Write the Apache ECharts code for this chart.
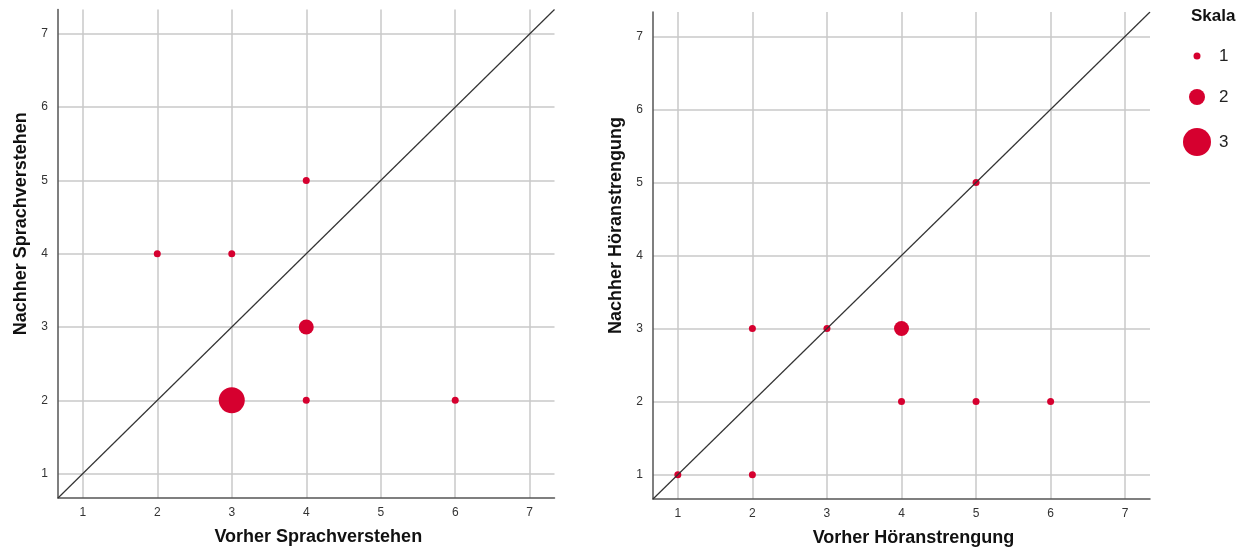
<!DOCTYPE html>
<html>
<head>
<meta charset="utf-8">
<script src="https://cdn.jsdelivr.net/npm/echarts@6/dist/echarts.min.js"></script>
<style>
html,body{margin:0;padding:0;background:#fff;}
#c{width:1244px;height:552px;}
</style>
</head>
<body>
<div id="c"></div>
<script>
// ---- data ----
const scaleValues = [1, 2, 3];
const leftTitleX = 'Vorher Sprachverstehen';
const leftTitleY = 'Nachher Sprachverstehen';
const rightTitleX = 'Vorher Höranstrengung';
const rightTitleY = 'Nachher Höranstrengung';
const leftX = [2, 3, 4, 4, 3, 4, 6];
const leftY = [4, 4, 5, 3, 2, 2, 2];
const leftN = [1, 1, 1, 2, 3, 1, 1];
const rightX = [1, 2, 2, 3, 4, 5, 4, 5, 6];
const rightY = [1, 1, 3, 3, 3, 5, 2, 2, 2];
const rightN = [1, 1, 1, 1, 2, 1, 1, 1, 1];
const axisMin = 0.667;
const axisMax = 7.333;

// ---- styles ----
const RED = '#d6002f';
const pointSize = {1: 7, 2: 15, 3: 26};
const legendSize = {1: 7, 2: 16, 3: 28};
const FONT = '"Liberation Sans", Arial, sans-serif';

function axis(name, isX, idx) {
  return {
    type: 'value', gridIndex: idx, min: axisMin, max: axisMax, minInterval: 1, maxInterval: 1,
    name: name, nameLocation: 'middle', nameGap: isX ? 30 : 28,
    nameTextStyle: {fontFamily: FONT, fontSize: 18, fontWeight: 'bold', color: '#111',
      padding: isX ? [0, 0, 0, 24] : [0, 0, 0, 60]},
    axisLine: {show: true, lineStyle: {color: '#555', width: 1.5}},
    axisTick: {show: false},
    axisLabel: {fontFamily: FONT, fontSize: 12, color: '#333', margin: isX ? 9 : 10,
      showMinLabel: false, showMaxLabel: false},
    splitLine: {show: true, showMinLine: false, showMaxLine: false,
      lineStyle: {color: '#c8c8c8', width: 1.5}}
  };
}

const series = [];
function addChart(idx, xs, ys, ns) {
  scaleValues.forEach(s => {
    const d = [];
    xs.forEach((x, i) => { if (ns[i] === s) d.push([x, ys[i]]); });
    series.push({
      type: 'scatter', name: String(s), xAxisIndex: idx, yAxisIndex: idx,
      symbol: 'circle', symbolSize: pointSize[s], data: d,
      itemStyle: {color: RED, opacity: 1}, z: 3
    });
  });
  series.push({
    type: 'line', xAxisIndex: idx, yAxisIndex: idx, symbol: 'none', silent: true,
    data: [[axisMin, axisMin], [axisMax, axisMax]],
    lineStyle: {color: '#333', width: 1.2}, z: 4
  });
}
addChart(0, leftX, leftY, leftN);
addChart(1, rightX, rightY, rightN);

const legendCenterY = {1: 56, 2: 97, 3: 142};
const legends = scaleValues.map(s => {
  const h = Math.max(legendSize[s], 20);
  return {
    data: [{name: String(s), icon: 'circle'}],
    left: 1197 - legendSize[s] / 2, top: legendCenterY[s] - h / 2, padding: 0, orient: 'vertical',
    itemWidth: legendSize[s], itemHeight: legendSize[s], itemGap: 0,
    textStyle: {fontFamily: FONT, fontSize: 17, color: '#222', lineHeight: 20,
      padding: [0, 0, 0, 17 - legendSize[s] / 2]},
    selectedMode: false
  };
});

const chart = echarts.init(document.getElementById('c'), null, {renderer: 'canvas'});
chart.setOption({
  animation: false,
  backgroundColor: '#fff',
  title: {text: 'Skala', left: 1191, top: 8, padding: 0,
    textStyle: {fontFamily: FONT, fontSize: 17, fontWeight: 'bold', color: '#111'}},
  legend: legends,
  grid: [
    {left: 58, top: 9.5, width: 496.5, height: 488.5},
    {left: 653, top: 12, width: 497, height: 488.5}
  ],
  xAxis: [axis(leftTitleX, true, 0), axis(rightTitleX, true, 1)],
  yAxis: [axis(leftTitleY, false, 0), axis(rightTitleY, false, 1)],
  series: series
});
</script>
</body>
</html>
